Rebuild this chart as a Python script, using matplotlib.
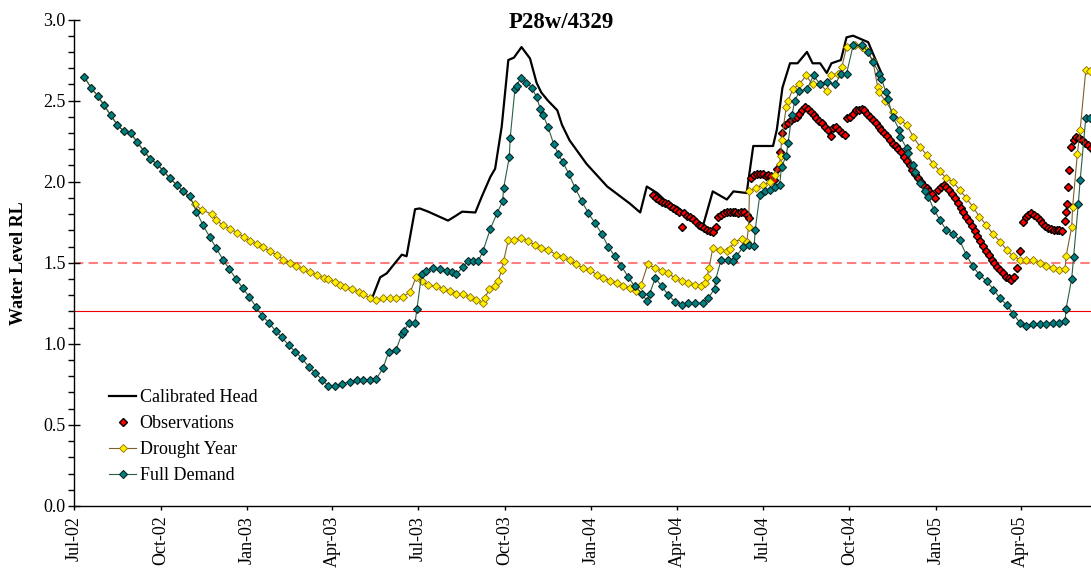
import numpy as np
import pandas as pd
import matplotlib
matplotlib.use("Agg")
import matplotlib.pyplot as plt
import matplotlib.dates as mdates

START = pd.Timestamp("2002-07-01")

# Full Demand scenario: days since 1 Jul 2002 and water level (m RL)
full_days = [
    11, 18, 25, 32, 39, 46, 53, 60, 67, 74, 81, 88, 95, 102, 109, 116, 123, 130,
    137, 144, 151, 158, 165, 172, 179, 186, 193, 200, 207, 214, 221, 228, 235,
    242, 249, 256, 263, 270, 277, 284,
    293, 300, 307, 314, 321, 328, 334, 342, 348, 350, 356, 362, 364, 369, 374,
    381, 388, 396, 401, 406, 413, 418, 424, 429, 434, 442, 449, 455, 456, 462,
    463, 468, 470, 474, 480, 486, 491, 495, 498, 503, 509, 514, 519, 525, 532,
    539, 546, 553, 560, 567, 574, 581, 588, 595, 603, 608, 611, 617, 624, 631,
    638, 645, 652, 659, 668, 673, 680, 681, 687, 694, 700, 703, 710, 717, 722,
    723, 728, 733, 739, 744, 749, 751, 756, 758, 762, 765, 770, 778, 785, 792,
    799, 808, 814, 820, 827, 836, 843, 848, 855, 857, 862, 864, 869, 876, 877,
    884, 885, 891, 893, 898, 903, 907, 913, 919, 926, 933, 940, 947, 954, 961,
    969, 976, 983, 990, 997, 1004, 1011, 1018, 1025, 1032, 1039, 1046, 1052,
    1053, 1059, 1061, 1066, 1068, 1074, 1078,
]
full_vals = [
    2.645, 2.58, 2.53, 2.47, 2.41, 2.35, 2.31, 2.30, 2.245, 2.19, 2.14, 2.11,
    2.065, 2.02, 1.98, 1.94, 1.91, 1.815, 1.73, 1.66, 1.59, 1.52, 1.46, 1.40,
    1.345, 1.29, 1.23, 1.17, 1.13, 1.08, 1.04, 0.99, 0.95, 0.91, 0.86, 0.82,
    0.78, 0.74, 0.74, 0.755,
    0.766, 0.774, 0.78, 0.78, 0.785, 0.85, 0.95, 0.965, 1.06, 1.08, 1.13, 1.13,
    1.215, 1.43, 1.45, 1.47, 1.46, 1.45, 1.44, 1.43, 1.475, 1.51, 1.51, 1.51,
    1.57, 1.71, 1.805, 1.88, 1.96, 2.15, 2.27, 2.57, 2.59, 2.64, 2.61, 2.58,
    2.52, 2.45, 2.41, 2.34, 2.235, 2.17, 2.12, 2.05, 1.96, 1.88, 1.805, 1.745,
    1.68, 1.60, 1.54, 1.48, 1.415, 1.355, 1.31, 1.265, 1.31, 1.405, 1.355, 1.30,
    1.26, 1.24, 1.25, 1.25, 1.25, 1.28, 1.34, 1.395, 1.52, 1.52, 1.51, 1.54,
    1.595, 1.61, 1.605, 1.70, 1.92, 1.94, 1.95, 1.97, 1.98, 2.09, 2.16, 2.24,
    2.41, 2.495, 2.56, 2.57, 2.655, 2.60, 2.615, 2.60, 2.665, 2.665, 2.84, 2.845,
    2.80, 2.74, 2.665, 2.635, 2.55, 2.51, 2.40, 2.32, 2.275, 2.205, 2.175, 2.10,
    2.06, 1.99, 1.94, 1.905, 1.825, 1.765, 1.70, 1.68, 1.64, 1.55, 1.48, 1.425,
    1.385, 1.335, 1.28, 1.24, 1.185, 1.13, 1.11, 1.12, 1.125, 1.125, 1.13, 1.13,
    1.14, 1.215, 1.40, 1.535, 1.86, 2.01, 2.395, 2.39,
]

# Drought Year scenario
drought_days = [
    11, 18, 25, 32, 39, 46, 53, 60, 67, 74, 81, 88, 95, 102, 109, 116,
    128, 136, 146, 151, 158, 166, 173, 180, 187, 194, 201, 208, 215, 222, 229,
    236, 243, 250, 258, 265, 270, 277, 282, 288, 295, 302, 307, 314, 321, 328,
    335, 342, 349, 357, 363, 369, 376, 384, 392, 399, 406, 413, 420, 427, 434,
    436, 441, 447, 450, 454, 456, 461, 467, 475, 482, 489, 496, 503, 512, 519,
    526, 533, 540, 548, 555, 562, 569, 576, 583, 590, 597, 602, 609, 617, 624,
    631, 638, 645, 652, 659, 666, 670, 672, 674, 678, 686, 693, 696, 701, 709,
    714, 716, 717, 724, 731, 739, 744, 749, 750, 751, 756, 758, 763, 770, 777,
    784, 792, 799, 804, 811, 815, 820, 829, 836, 841, 848, 853, 855, 861, 869,
    877, 884, 891, 898, 905, 912, 919, 926, 933, 940, 947, 954, 961, 968, 975,
    983, 990, 997, 1004, 1011, 1018, 1025, 1032, 1039, 1046, 1052, 1053, 1059,
    1060, 1065, 1068, 1074, 1078,
]
drought_vals = [
    2.645, 2.58, 2.53, 2.47, 2.41, 2.35, 2.31, 2.30, 2.245, 2.19, 2.14, 2.11,
    2.065, 2.02, 1.98, 1.94,
    1.86, 1.825, 1.80, 1.765, 1.73, 1.71, 1.685, 1.66, 1.635, 1.615, 1.595,
    1.57, 1.55, 1.52, 1.50, 1.48, 1.46, 1.44, 1.425, 1.405, 1.40, 1.38, 1.36,
    1.35, 1.34, 1.32, 1.305, 1.285, 1.27, 1.285, 1.28, 1.285, 1.29, 1.32, 1.41,
    1.385, 1.365, 1.355, 1.34, 1.325, 1.31, 1.305, 1.29, 1.27, 1.25, 1.28, 1.34,
    1.355, 1.385, 1.455, 1.51, 1.64, 1.64, 1.65, 1.635, 1.61, 1.59, 1.58, 1.55,
    1.535, 1.515, 1.49, 1.47, 1.455, 1.425, 1.405, 1.39, 1.375, 1.355, 1.345,
    1.325, 1.365, 1.49, 1.465, 1.45, 1.435, 1.405, 1.385, 1.375, 1.36, 1.355,
    1.375, 1.415, 1.465, 1.59, 1.58, 1.57, 1.585, 1.63, 1.645, 1.625, 1.72,
    1.94, 1.96, 1.98, 1.995, 2.04, 2.11, 2.16, 2.255, 2.46, 2.50, 2.57, 2.60,
    2.655, 2.60, 2.60, 2.56, 2.66, 2.665, 2.705, 2.83, 2.84, 2.83, 2.81, 2.745,
    2.585, 2.55, 2.50, 2.43, 2.38, 2.35, 2.275, 2.215, 2.165, 2.11, 2.065, 2.02,
    2.00, 1.95, 1.90, 1.845, 1.785, 1.735, 1.68, 1.63, 1.58, 1.54, 1.52, 1.52,
    1.515, 1.50, 1.48, 1.465, 1.455, 1.46, 1.54, 1.72, 1.845, 2.17, 2.32, 2.69,
    2.685,
]

# Calibrated model head
head_days = [
    317, 325, 332, 341, 348, 353, 362, 367, 376, 397, 404, 412, 426, 433, 442,
    447, 454, 461, 467, 475, 484, 491, 496, 503, 513, 518, 526, 544, 566, 590,
    601, 608, 619, 630, 640, 654, 668, 678, 693, 700, 714, 721, 731, 742, 746,
    752, 760, 768, 778, 784, 792, 799, 804, 814, 820, 827, 843, 851, 857,
]
head_vals = [
    1.29, 1.41, 1.435, 1.50, 1.55, 1.54, 1.83, 1.835, 1.815, 1.76, 1.785, 1.815,
    1.81, 1.91, 2.03, 2.08, 2.34, 2.75, 2.765, 2.83, 2.76, 2.61, 2.55, 2.50,
    2.44, 2.35, 2.255, 2.11, 1.97, 1.865, 1.81, 1.97, 1.93, 1.87, 1.845, 1.78,
    1.735, 1.94, 1.89, 1.94, 1.93, 2.22, 2.22, 2.22, 2.32, 2.58, 2.73, 2.73,
    2.80, 2.73, 2.73, 2.67, 2.73, 2.75, 2.89, 2.90, 2.86, 2.75, 2.67,
]

# Logged bore observations, every third day where continuous
obs_days = np.r_[615:718:3, 719:750:3, 752:819:3, 821:1005:3,
                 1007:1050:3, 1052:1057, 1058:1082:3]
obs_vals = [
    # Mar - Jun 2004
    1.92, 1.90, 1.885, 1.875, 1.87, 1.86, 1.85, 1.835, 1.825, 1.81, 1.72,
    1.805, 1.79, 1.78, 1.77, 1.75, 1.735, 1.725, 1.715, 1.705, 1.695, 1.69,
    1.72, 1.785, 1.795, 1.805, 1.81, 1.815, 1.815, 1.81, 1.805, 1.815, 1.81,
    1.795, 1.775,
    # Jun - Jul 2004
    2.02, 2.04, 2.05, 2.05, 2.045, 2.035, 2.04, 2.035, 2.01, 2.08, 2.18,
    # Jul - Sep 2004
    2.30, 2.35, 2.36, 2.38, 2.39, 2.40, 2.42, 2.44, 2.46, 2.45, 2.43, 2.41,
    2.39, 2.375, 2.36, 2.34, 2.32, 2.28, 2.33, 2.34, 2.32, 2.30, 2.29,
    # Sep 2004 - Apr 2005
    2.39, 2.40, 2.42, 2.44, 2.445, 2.45, 2.44, 2.42, 2.40, 2.38, 2.36, 2.34,
    2.32, 2.30, 2.28, 2.26, 2.235, 2.22, 2.20, 2.185, 2.155, 2.13, 2.10, 2.075,
    2.05, 2.02, 2.00, 1.975, 1.96, 1.94, 1.925, 1.90, 1.95, 1.97, 1.98, 1.965,
    1.95, 1.925, 1.90, 1.87, 1.84, 1.815, 1.785, 1.755, 1.725, 1.695, 1.665,
    1.635, 1.605, 1.575, 1.545, 1.52, 1.50, 1.475, 1.455, 1.435, 1.415, 1.405,
    1.395, 1.41, 1.465, 1.57,
    # Apr - May 2005
    1.75, 1.78, 1.795, 1.805, 1.795, 1.785, 1.765, 1.745, 1.725, 1.715, 1.71,
    1.705, 1.70, 1.70, 1.695,
    1.755, 1.81, 1.865, 1.97, 2.07,
    2.215, 2.26, 2.275, 2.27, 2.255, 2.24, 2.225, 2.21,
]

TRIGGER_LEVEL = 1.5
FLOOR_LEVEL = 1.2


def to_dates(days):
    return START + pd.to_timedelta(np.asarray(days), unit="D")


plt.rcParams["font.family"] = ["Liberation Serif", "DejaVu Serif"]

fig = plt.figure(figsize=(10.91, 5.72), dpi=100)
ax = fig.add_axes([74 / 1091, 1 - 506 / 572, 1 - 74 / 1091, (506 - 19.5) / 572])

ax.axhline(TRIGGER_LEVEL, color="#ff7f7f", lw=1.5, dashes=(4.5, 2.5), zorder=1)
ax.axhline(FLOOR_LEVEL, color="#ee0000", lw=0.8, zorder=1)

ax.plot(to_dates(head_days), head_vals, color="black", lw=1.6,
        label="Calibrated Head", zorder=2)
ax.plot(to_dates(obs_days), obs_vals, ls="none", marker="D", ms=4.0,
        mfc="#ff0000", mec="black", mew=1.0, label="Observations", zorder=3)
ax.plot(to_dates(drought_days), drought_vals, color="#80602a", lw=0.8,
        marker="D", ms=4.0, mfc="#ffee00", mec="#8c6d00", mew=0.6,
        label="Drought Year", zorder=4)
ax.plot(to_dates(full_days), full_vals, color="#2a6040", lw=0.8,
        marker="D", ms=4.3, mfc="#008080", mec="#0a2525", mew=0.8,
        label="Full Demand", zorder=5)

ax.set_ylim(0, 3.0)
ax.set_xlim(START, START + pd.Timedelta(days=1079.5))
ax.yaxis.set_major_locator(plt.MultipleLocator(0.5))
ax.yaxis.set_minor_locator(plt.MultipleLocator(0.1))
ax.yaxis.set_major_formatter(plt.FormatStrFormatter("%.1f"))
ax.xaxis.set_major_locator(mdates.MonthLocator(bymonth=[1, 4, 7, 10]))
ax.xaxis.set_major_formatter(mdates.DateFormatter("%b-%y"))

ax.tick_params(axis="y", which="major", direction="inout", length=8,
               width=1, labelsize=13, pad=2)
ax.tick_params(axis="y", which="minor", direction="out", length=4, width=1)
ax.tick_params(axis="x", which="major", direction="out", length=3, width=1,
               labelsize=13, labelrotation=90, pad=4)

for side in ("top", "right"):
    ax.spines[side].set_visible(False)
for side in ("left", "bottom"):
    ax.spines[side].set_linewidth(1.0)

fig.text(561 / 1091, 1 - 22 / 572, "P28w/4329", ha="center", va="center",
         fontsize=16.5, fontweight="bold")
fig.text(19 / 1091, 1 - 263 / 572, "Water Level RL", ha="center", va="center",
         rotation=90, fontsize=13, fontweight="bold")

ax.legend(loc="upper left", bbox_to_anchor=(109 / 1091, 1 - 389 / 572),
          bbox_transform=fig.transFigure, frameon=False, fontsize=13,
          handlelength=1.5, handletextpad=0.2, labelspacing=0.5,
          borderpad=0, borderaxespad=0)

fig.savefig("out.png", dpi=100)
